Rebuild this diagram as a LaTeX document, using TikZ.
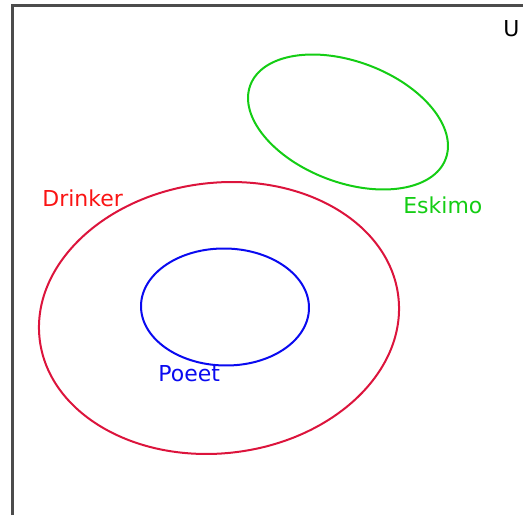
\documentclass[tikz,border=0pt]{standalone}
\usepackage{fontspec}
\setmainfont{DejaVu Sans}
\usepackage{tikz}
\usetikzlibrary{positioning}
\definecolor{drinkred}{RGB}{220,20,60}
\definecolor{labelred}{RGB}{250,20,20}
\definecolor{eskgreen}{RGB}{20,205,20}
\definecolor{poeetblue}{RGB}{10,10,240}
\tikzset{
  setline/.style={line width=0.04cm},
  setlabel/.style={inner sep=0pt,anchor=base west,font=\fontsize{12.5pt}{15pt}\selectfont}
}

\begin{document}
\begin{tikzpicture}[x=0.02cm,y=0.02cm]
\useasboundingbox (0,0) rectangle (523,515);
\draw[line width=0.05cm,black!70] (12.5,0) -- (12.5,509.5) -- (523,509.5);
\node[setlabel] (u) at (503,479) {U};
\draw[setline,eskgreen,rotate around={-20.7:(348,393)}] (348,393) ellipse (104.4 and 60.4);
\draw[setline,drinkred,rotate around={6.9:(219,197)}] (219,197) ellipse (180.6 and 135.2);
\draw[setline,poeetblue,rotate around={-1:(225,208)}] (225,208) ellipse (84 and 58.5);
\node[setlabel,text=labelred] (drinker) at (42,309) {Drinker};
\node[setlabel,text=eskgreen] (eskimo) at (403,302) {Eskimo};
\node[setlabel,text=poeetblue] (poeet) at (158,134) {Poeet};
\end{tikzpicture}
\end{document}
